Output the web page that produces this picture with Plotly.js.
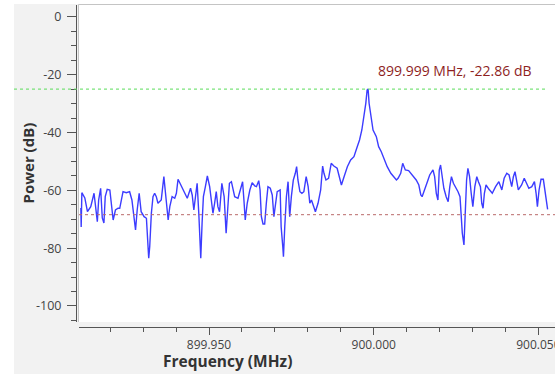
<!DOCTYPE html>
<html>
<head>
<meta charset="utf-8">
<script src="https://cdn.plot.ly/plotly-3.0.1.min.js"></script>
<style>
html,body{margin:0;padding:0;overflow:hidden;background:#ffffff;}
#chart{width:555px;height:374px;}
</style>
</head>
<body>
<div id="chart"></div>
<script>
// Frequency bins (MHz)
const freqMHz = [899.9111, 899.9112, 899.9114, 899.9123, 899.9131, 899.9141, 899.9151, 899.9161, 899.9165, 899.9171, 899.9176, 899.9181, 899.9185, 899.9191, 899.9199, 899.9203, 899.9209, 899.9216, 899.9224, 899.9229, 899.9239, 899.9249, 899.9259, 899.9266, 899.9274, 899.9277, 899.9282, 899.9288, 899.9294, 899.9303, 899.9310, 899.9313, 899.9317, 899.9320, 899.9325, 899.9330, 899.9335, 899.9340, 899.9345, 899.9355, 899.9363, 899.9367, 899.9376, 899.9381, 899.9388, 899.9396, 899.9401, 899.9406, 899.9416, 899.9426, 899.9434, 899.9444, 899.9449, 899.9454, 899.9460, 899.9464, 899.9469, 899.9473, 899.9475, 899.9479, 899.9483, 899.9489, 899.9495, 899.9502, 899.9507, 899.9512, 899.9517, 899.9522, 899.9527, 899.9532, 899.9539, 899.9546, 899.9552, 899.9556, 899.9562, 899.9568, 899.9578, 899.9588, 899.9598, 899.9602, 899.9606, 899.9610, 899.9616, 899.9624, 899.9631, 899.9639, 899.9644, 899.9651, 899.9655, 899.9659, 899.9664, 899.9669, 899.9674, 899.9679, 899.9686, 899.9692, 899.9697, 899.9703, 899.9707, 899.9716, 899.9719, 899.9724, 899.9726, 899.9730, 899.9735, 899.9740, 899.9745, 899.9750, 899.9756, 899.9762, 899.9766, 899.9770, 899.9776, 899.9782, 899.9788, 899.9795, 899.9801, 899.9806, 899.9811, 899.9818, 899.9823, 899.9831, 899.9839, 899.9845, 899.9849, 899.9855, 899.9863, 899.9871, 899.9879, 899.9889, 899.9896, 899.9902, 899.9910, 899.9920, 899.9930, 899.9940, 899.9950, 899.9957, 899.9964, 899.9971, 899.9976, 899.9980, 899.9983, 899.9986, 899.9991, 899.9998, 900.0008, 900.0015, 900.0023, 900.0031, 900.0041, 900.0052, 900.0062, 900.0069, 900.0074, 900.0082, 900.0088, 900.0096, 900.0106, 900.0116, 900.0129, 900.0137, 900.0143, 900.0147, 900.0155, 900.0163, 900.0170, 900.0180, 900.0185, 900.0190, 900.0195, 900.0199, 900.0203, 900.0207, 900.0213, 900.0220, 900.0226, 900.0231, 900.0236, 900.0242, 900.0248, 900.0256, 900.0262, 900.0266, 900.0269, 900.0274, 900.0278, 900.0282, 900.0286, 900.0291, 900.0296, 900.0301, 900.0307, 900.0313, 900.0318, 900.0324, 900.0328, 900.0332, 900.0336, 900.0341, 900.0350, 900.0360, 900.0370, 900.0380, 900.0389, 900.0396, 900.0404, 900.0411, 900.0419, 900.0424, 900.0429, 900.0434, 900.0439, 900.0449, 900.0457, 900.0464, 900.0471, 900.0480, 900.0488, 900.0493, 900.0497, 900.0502, 900.0508, 900.0515, 900.0520, 900.0525, 900.0528];

// Power (dB)
const powerDB = [-66.09, -72.66, -60.80, -62.63, -67.37, -65.64, -61.00, -70.83, -63.32, -59.27, -69.55, -71.28, -62.18, -59.62, -59.86, -64.36, -70.24, -66.78, -66.19, -66.19, -60.45, -60.80, -60.45, -63.32, -71.97, -73.70, -66.78, -61.00, -67.37, -69.10, -69.65, -76.02, -83.49, -79.48, -67.92, -62.18, -61.00, -62.18, -64.46, -63.32, -55.26, -59.86, -70.24, -65.64, -62.18, -62.73, -61.00, -56.16, -58.72, -61.00, -62.73, -59.27, -61.59, -66.78, -61.00, -57.54, -67.92, -79.48, -83.49, -71.38, -62.18, -58.72, -55.02, -58.72, -64.46, -67.92, -64.46, -60.45, -65.64, -67.37, -57.54, -62.18, -74.84, -66.78, -57.54, -56.99, -62.18, -62.73, -58.72, -56.99, -63.32, -70.24, -64.46, -59.86, -57.34, -58.48, -58.72, -56.64, -59.86, -69.10, -71.63, -71.63, -64.46, -58.72, -59.27, -61.59, -69.10, -63.32, -60.45, -59.86, -72.56, -79.48, -82.94, -72.56, -62.18, -56.99, -69.10, -62.18, -56.40, -54.08, -51.80, -56.40, -60.45, -61.00, -60.45, -55.26, -58.72, -64.46, -63.32, -65.64, -67.37, -64.46, -59.86, -51.56, -54.08, -56.40, -55.81, -50.62, -51.56, -52.35, -55.26, -58.13, -55.26, -51.80, -49.48, -48.34, -44.88, -42.56, -39.10, -34.50, -29.86, -25.26, -24.95, -29.86, -34.50, -39.10, -41.42, -44.88, -46.61, -48.89, -51.80, -54.08, -55.26, -56.40, -55.81, -54.08, -50.62, -52.94, -53.18, -54.67, -56.40, -58.13, -61.59, -62.18, -59.86, -56.99, -54.67, -52.94, -55.26, -61.00, -63.32, -52.94, -51.21, -54.67, -59.27, -62.18, -63.91, -58.72, -55.26, -57.54, -58.72, -60.45, -62.18, -69.10, -74.84, -78.89, -66.78, -56.40, -52.35, -55.26, -61.00, -65.64, -58.72, -55.26, -56.99, -58.72, -64.46, -66.19, -61.00, -58.13, -59.62, -61.00, -58.72, -56.99, -59.86, -55.81, -54.08, -54.67, -58.72, -55.26, -53.53, -57.54, -59.86, -58.13, -55.81, -57.54, -59.27, -58.72, -56.99, -61.00, -65.64, -59.86, -56.16, -56.16, -61.00, -64.46, -66.54];

// Tick labels
const xTickVals = [899.95, 900.00, 900.05];
const xTickText = ["899.950", "900.000", "900.050"];
const yTickVals = [0, -20, -40, -60, -80, -100];
const yTickText = ["0", "-20", "-40", "-60", "-80", "-100"];

// Marker lines and labels
const peakLevelDB = -24.95;
const avgLevelDB = -68.41;
const peakLabel = "899.999 MHz, -22.86 dB";
const xTitle = "Frequency (MHz)";
const yTitle = "Power (dB)";

const W = 555, H = 374;
const L = 76, R = 0, T = 5, B = 47;
const pw = W - L - R, ph = H - T - B;
const px = v => (v - L) / pw;          // pixel x -> paper x
const py = v => (H - B - v) / ph;      // pixel y -> paper y

const FONT = "Open Sans, Noto Sans, DejaVu Sans, sans-serif";

const trace = {
  x: freqMHz, y: powerDB, type: "scatter", mode: "lines",
  line: {color: "rgb(60,60,255)", width: 1.4},
  hoverinfo: "skip"
};

const layout = {
  width: W, height: H,
  margin: {l: L, r: R, t: T, b: B, pad: 0},
  paper_bgcolor: "#f2f2f2",
  plot_bgcolor: "#ffffff",
  showlegend: false,
  font: {family: FONT, size: 12, color: "#444"},
  xaxis: {
    domain: [px(79), 1],
    anchor: "free", position: 0,
    range: [899.910534, 900.055039],
    tickmode: "array", tickvals: xTickVals, ticktext: xTickText,
    ticks: "outside", ticklen: 7, tickwidth: 1, tickcolor: "#555",
    minor: {tick0: 899.95, dtick: 0.01, ticks: "outside", ticklen: 4, tickcolor: "#555", showgrid: false},
    showline: true, linecolor: "#555", linewidth: 1,
    showgrid: false, zeroline: false,
    ticklabeloverflow: "allow",
    tickfont: {family: FONT, size: 12, color: "#444"},
    fixedrange: true
  },
  yaxis: {
    domain: [py(322), 1],
    anchor: "free", position: 0,
    range: [-105.54, 4.15],
    tickmode: "array", tickvals: yTickVals, ticktext: yTickText,
    ticks: "outside", ticklen: 9, tickwidth: 1, tickcolor: "#555",
    minor: {tick0: 0, dtick: 5, ticks: "outside", ticklen: 5, tickcolor: "#555", showgrid: false},
    showline: true, linecolor: "#555", linewidth: 1,
    showgrid: false, zeroline: false,
    tickfont: {family: FONT, size: 12.5, color: "#444"},
    ticklabelstandoff: 3,
    fixedrange: true
  },
  shapes: [
    {type: "rect", xref: "paper", yref: "paper", x0: px(0), x1: px(14), y0: py(0), y1: py(H), fillcolor: "#ffffff", line: {width: 0}, layer: "below"},
    {type: "rect", xref: "paper", yref: "paper", x0: px(0), x1: px(W), y0: py(0), y1: py(4), fillcolor: "#ffffff", line: {width: 0}, layer: "below"},
    {type: "line", xref: "paper", yref: "paper", x0: px(78.5), x1: px(78.5), y0: py(4.5), y1: py(322), line: {color: "#c4c4c4", width: 1}},
    {type: "line", xref: "paper", yref: "paper", x0: px(78.5), x1: px(W), y0: py(4.5), y1: py(4.5), line: {color: "#c4c4c4", width: 1}},
    {type: "line", xref: "paper", yref: "y", x0: px(14), x1: px(548), y0: peakLevelDB, y1: peakLevelDB, line: {color: "rgb(90,220,90)", width: 1, dash: "dot"}},
    {type: "line", xref: "paper", yref: "y", x0: px(79), x1: px(W), y0: avgLevelDB, y1: avgLevelDB, line: {color: "rgb(185,105,105)", width: 1, dash: "dot"}}
  ],
  annotations: [
    {text: peakLabel, xref: "paper", yref: "paper", x: px(454.5), y: py(70.5), xanchor: "center", yanchor: "middle", showarrow: false,
     font: {family: FONT, size: 14, color: "#8e1f1f"}},
    {text: "<b>" + xTitle + "</b>", xref: "paper", yref: "paper", x: px(227), y: py(361), xanchor: "center", yanchor: "middle", showarrow: false,
     font: {family: FONT, size: 15.5, color: "#333"}},
    {text: "<b>" + yTitle + "</b>", xref: "paper", yref: "paper", x: px(27), y: py(163.5), xanchor: "center", yanchor: "middle", showarrow: false, textangle: -90,
     font: {family: FONT, size: 15, color: "#333"}}
  ]
};

Plotly.newPlot("chart", [trace], layout, {staticPlot: true, displayModeBar: false});
</script>
</body>
</html>
